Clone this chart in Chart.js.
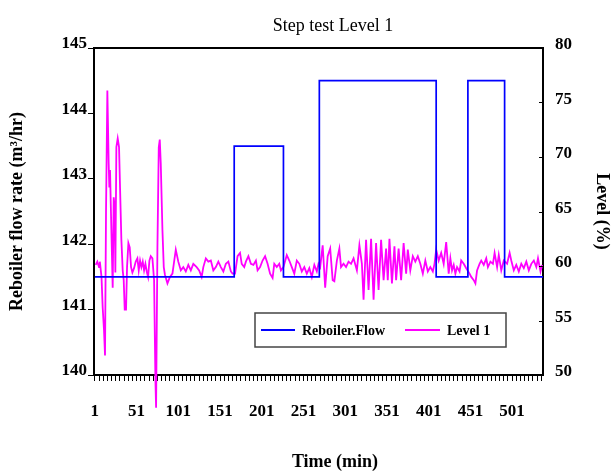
<!DOCTYPE html>
<html>
<head>
<meta charset="utf-8">
<script src="https://cdn.jsdelivr.net/npm/chart.js@4.4.1/dist/chart.umd.min.js"></script>
<style>
  html, body { margin: 0; padding: 0; background: #fff; }
</style>
</head>
<body>
<canvas id="chart" width="613" height="473"></canvas>
<script>
// step input on the reboiler flow (value holds from that minute onward)
const flowMinutes = [1, 168, 227, 270, 410, 448, 492, 538];
const flowValues = [141.5, 143.5, 141.5, 144.5, 141.5, 144.5, 141.5, 141.5];

// level 1 response
const levelMinutes = [
  2, 4, 6, 7, 9, 10.4, 12, 13.2, 14.4, 16, 17.6, 18.4, 19.2, 20.8, 22.4, 23.6, 24.8, 25.6, 26.8, 28.4,
  30, 31.2, 32.8, 34.4, 35.6, 36.8, 38.4, 39.6, 41.2, 42.8, 44.4, 46, 48, 50, 52, 53.6, 55.2, 56.8, 58.4, 60,
  61.6, 63.2, 64.8, 66.4, 68, 70, 72, 73.6, 74.4, 76, 77.6, 78.8, 80, 82, 83.6,
  85, 88, 91, 94, 98, 101, 104, 107, 110, 113, 116, 119, 123, 126, 129, 131, 134, 137, 140, 143,
  146, 149, 152, 155, 158, 161, 164, 166, 169, 172, 175, 177, 180, 182, 185, 188, 191, 194,
  196, 199, 202, 205, 208, 211, 214, 216, 219, 222, 224, 227, 231, 234, 237, 240, 243, 246, 249, 252,
  255, 258, 261, 264, 267, 269, 271, 274, 277, 280, 283, 286, 288, 291, 294, 296, 299, 302, 305, 308, 311,
  315, 318, 321, 323, 326, 329, 332, 335, 338, 341, 344, 347, 350, 352, 354, 357, 360, 362, 365, 368,
  371, 374, 376, 379, 382, 385, 388, 391, 394, 397, 400, 403, 406, 408, 410, 413, 416, 419, 422,
  425, 427, 429, 431, 433, 435, 438, 440, 443, 446, 450, 452, 455, 457, 459, 462, 464, 467, 470,
  472, 475, 478, 480, 483, 485, 488, 491, 495, 498, 500, 503, 506, 509, 512, 515, 518, 521, 524,
  527, 530, 532, 535, 537
];
const levelValues = [
  60.1, 60.4, 59.9, 60.4, 59.0, 56.2, 54.1, 51.8, 64.9, 76.1, 69.4, 67.2, 68.8, 63.3, 58.0, 66.3, 65.4, 59.4, 70.9, 71.7,
  70.9, 67.2, 62.4, 59.6, 58.7, 56.0, 56.0, 59.9, 62.1, 61.7, 59.9, 59.4, 59.8, 60.4, 60.7, 59.6, 60.5, 59.9, 60.4, 59.6,
  60.2, 59.5, 59.0, 60.5, 60.9, 60.7, 58.7, 49.5, 47.0, 61.7, 70.9, 71.6, 69.4, 63.3, 59.9,
  59.2, 58.4, 59.0, 59.3, 61.5, 60.4, 59.6, 59.9, 59.5, 60.1, 59.6, 60.2, 59.9, 59.6, 59.0, 59.9, 60.7, 60.4, 60.5, 59.6,
  59.9, 60.4, 59.9, 59.5, 60.2, 60.4, 59.5, 59.3, 59.3, 60.9, 61.2, 60.2, 59.9, 60.4, 60.9, 60.2, 60.1, 60.5,
  59.6, 59.9, 60.5, 60.9, 60.2, 59.3, 58.9, 60.2, 59.9, 60.2, 59.6, 59.9, 61.0, 60.5, 59.9, 59.3, 60.5, 60.2, 59.5, 59.9,
  59.3, 59.8, 59.0, 60.1, 59.5, 60.2, 59.9, 61.9, 58.0, 60.9, 61.6, 58.7, 58.6, 60.5, 61.6, 59.9, 60.2, 59.9, 60.4, 60.2, 60.7,
  59.6, 61.9, 60.2, 56.9, 62.4, 57.8, 62.5, 56.9, 62.1, 57.8, 62.4, 58.7, 61.6, 58.7, 62.5, 58.4, 61.8, 58.7, 61.6, 58.7,
  62.1, 59.3, 61.5, 59.6, 60.9, 60.4, 60.9, 60.2, 59.3, 60.5, 59.5, 59.9, 59.5, 60.2, 61.5, 60.5, 61.2, 60.2, 62.2,
  59.3, 60.7, 59.6, 60.1, 59.3, 59.9, 59.5, 60.5, 60.2, 59.8, 59.3, 59.0, 58.7, 58.4, 59.6, 60.2, 60.5, 60.1, 60.7,
  59.9, 60.4, 60.2, 61.2, 59.9, 61.0, 59.6, 60.5, 60.2, 61.2, 60.5, 59.6, 60.1, 59.5, 60.2, 59.8, 60.4, 59.6, 60.2,
  60.5, 59.9, 60.7, 59.5, 60.1
];

const xTickLabels = ['1', '51', '101', '151', '201', '251', '301', '351', '401', '451', '501'];

const serif = "'Liberation Serif', 'Times New Roman', serif";

// minor tick every 5 minutes starting at 1
const minorTicks = [];
for (let v = 1; v <= 536; v += 5) minorTicks.push(v);

const flowData = flowMinutes.map((m, i) => ({ x: m, y: flowValues[i] }));
const levelData = levelMinutes.map((m, i) => ({ x: m, y: levelValues[i] }));

// frame top, inward ticks of the right axis, titles and legend box
const extras = {
  id: 'extras',
  afterDraw(chart) {
    const ctx = chart.ctx;
    const a = chart.chartArea;
    ctx.save();
    ctx.strokeStyle = '#000';
    ctx.lineWidth = 2;
    ctx.beginPath();
    ctx.moveTo(a.left - 1, a.top);
    ctx.lineTo(a.right + 1, a.top);
    ctx.stroke();

    ctx.lineWidth = 1;
    chart.scales.y1.ticks.forEach(t => {
      const y = Math.round(chart.scales.y1.getPixelForValue(t.value)) + 0.5;
      ctx.beginPath();
      ctx.moveTo(a.right - 4, y);
      ctx.lineTo(a.right, y);
      ctx.stroke();
    });

    ctx.fillStyle = '#000';
    ctx.textAlign = 'center';
    ctx.textBaseline = 'middle';
    ctx.font = '18px ' + serif;
    ctx.fillText('Step test Level 1', 333, 26);
    ctx.font = 'bold 18px ' + serif;
    ctx.fillText('Time (min)', 335, 462);

    // legend
    const lx = a.left + 161, ly = a.top + 265, lw = 251, lh = 34;
    ctx.fillStyle = '#fff';
    ctx.fillRect(lx, ly, lw, lh);
    ctx.strokeStyle = '#444';
    ctx.lineWidth = 1.5;
    ctx.strokeRect(lx, ly, lw, lh);
    const my = ly + lh / 2;
    ctx.lineWidth = 2;
    ctx.strokeStyle = '#0000ff';
    ctx.beginPath(); ctx.moveTo(lx + 6, my); ctx.lineTo(lx + 40, my); ctx.stroke();
    ctx.strokeStyle = '#ff00ff';
    ctx.beginPath(); ctx.moveTo(lx + 150, my); ctx.lineTo(lx + 185, my); ctx.stroke();
    ctx.fillStyle = '#000';
    ctx.textAlign = 'left';
    ctx.font = 'bold 14px ' + serif;
    ctx.fillText('Reboiler.Flow', lx + 47, my + 1);
    ctx.fillText('Level 1', lx + 192, my + 1);
    ctx.restore();
  }
};

new Chart(document.getElementById('chart'), {
  type: 'line',
  data: {
    datasets: [
      {
        label: 'Reboiler.Flow',
        data: flowData,
        yAxisID: 'y',
        borderColor: '#0000ff',
        borderWidth: 1.7,
        stepped: true,
        pointRadius: 0
      },
      {
        label: 'Level 1',
        data: levelData,
        yAxisID: 'y1',
        borderColor: '#ff00ff',
        borderWidth: 1.8,
        pointRadius: 0,
        clip: false
      }
    ]
  },
  options: {
    responsive: false,
    animation: false,
    devicePixelRatio: 1,
    layout: { padding: { top: 48, left: 0, right: 0, bottom: 0 } },
    plugins: {
      legend: { display: false },
      title: { display: false },
      tooltip: { enabled: false }
    },
    scales: {
      x: {
        type: 'linear',
        min: 0,
        max: 538,
        afterBuildTicks: ax => { ax.ticks = minorTicks.map(v => ({ value: v })); },
        afterFit: s => { s.height = 98; },
        ticks: {
          autoSkip: false,
          maxRotation: 0,
          padding: 20,
          color: '#000',
          font: { family: serif, size: 17, weight: 'bold' },
          callback: v => xTickLabels.includes(String(v)) ? String(v) : ''
        },
        grid: { drawOnChartArea: false, tickLength: 6, color: '#000', lineWidth: 1 },
        border: { color: '#000', width: 2 }
      },
      y: {
        position: 'left',
        min: 140,
        max: 145,
        afterFit: s => { s.width = 94; },
        ticks: {
          stepSize: 1,
          padding: 1,
          labelOffset: -4,
          color: '#000',
          font: { family: serif, size: 17, weight: 'bold' }
        },
        grid: { drawOnChartArea: false, tickLength: 6, color: '#000' },
        border: { color: '#000', width: 2 },
        title: {
          display: true,
          text: 'Reboiler flow rate (m³/hr)',
          color: '#000',
          padding: { top: 7, bottom: 0 },
          font: { family: serif, size: 18, weight: 'bold' }
        }
      },
      y1: {
        position: 'right',
        min: 50,
        max: 80,
        afterFit: s => { s.width = 70; },
        ticks: {
          stepSize: 5,
          padding: 12,
          labelOffset: -3,
          color: '#000',
          font: { family: serif, size: 17, weight: 'bold' }
        },
        grid: { drawOnChartArea: false, drawTicks: false },
        border: { color: '#000', width: 2 },
        title: {
          display: true,
          text: 'Level (%)',
          color: '#000',
          padding: { top: 1, bottom: 0 },
          font: { family: serif, size: 18, weight: 'bold' }
        }
      }
    }
  },
  plugins: [extras]
});
</script>
</body>
</html>
